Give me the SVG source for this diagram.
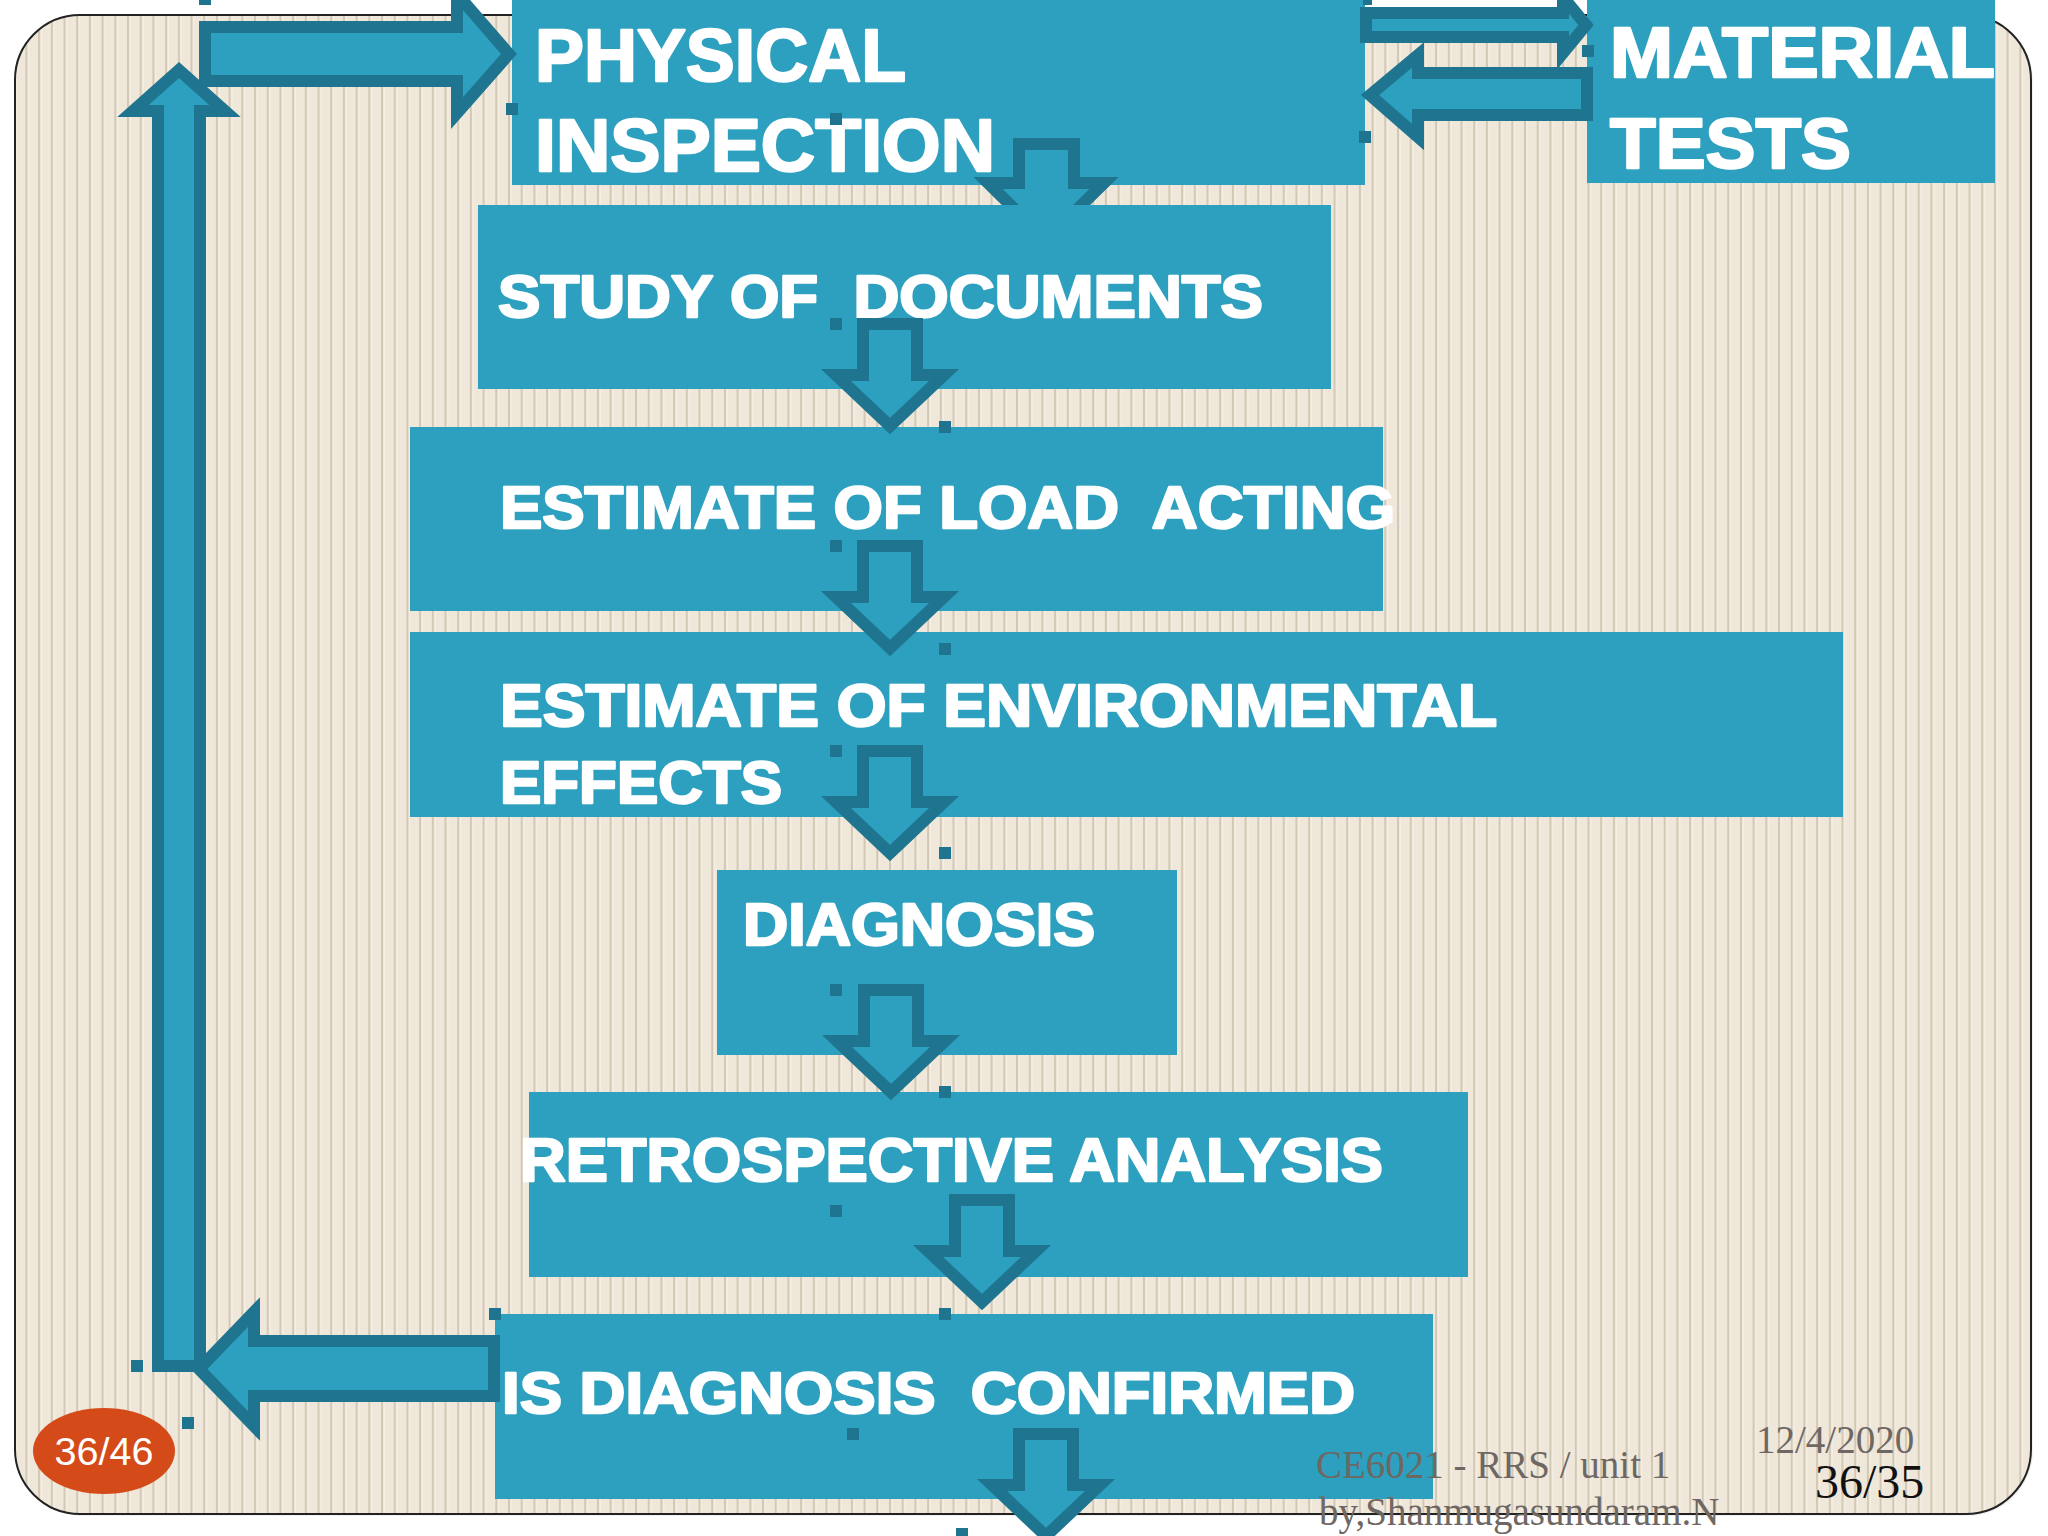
<svg xmlns="http://www.w3.org/2000/svg" width="2048" height="1536" viewBox="0 0 2048 1536">
  <defs>
    <pattern id="stripes" patternUnits="userSpaceOnUse" width="12.7" height="20">
      <rect width="12.7" height="20" fill="#EFE8DA"/>
      <rect x="0" width="2.4" height="20" fill="#D3C8B4"/>
      <rect x="2.4" width="1.2" height="20" fill="#F8F3EA"/>
    </pattern>
    <clipPath id="clipA">
      <rect x="0" y="0" width="2048" height="205"/>
    </clipPath>
    <style>
      .box { fill: #2CA0BE; }
      .lbl { font-family: "Liberation Sans", Arial, sans-serif; font-weight: bold; fill: #FFFFFF; stroke: #FFFFFF; stroke-width: 2.4; stroke-linejoin: round; }
      .arr { fill: #2CA0BE; stroke: #1F758F; stroke-width: 12; stroke-linejoin: miter; stroke-miterlimit: 10; }
      .dot { fill: #1F758F; }
      .foot { font-family: "Liberation Serif", "Times New Roman", serif; fill: #6E6762; font-size: 39px; }
    </style>
  </defs>

  <rect width="2048" height="1536" fill="#FFFFFF"/>
  <rect x="17" y="17" width="2016" height="1499" rx="65" ry="65" fill="#E8E8E8" opacity="0.6"/>
  <rect id="panel" x="15" y="15" width="2016" height="1499" rx="65" ry="65" fill="url(#stripes)" stroke="#222222" stroke-width="2"/>

  <g id="node-physical">
    <rect class="box" x="512" y="0" width="853" height="185"/>
    <text class="lbl" x="535" y="81" font-size="74" textLength="371" lengthAdjust="spacingAndGlyphs">PHYSICAL</text>
    <text class="lbl" x="535" y="171" font-size="74" textLength="460" lengthAdjust="spacingAndGlyphs">INSPECTION</text>
  </g>
  <g id="node-material">
    <rect class="box" x="1587" y="0" width="408" height="183"/>
    <text class="lbl" x="1610" y="77" font-size="70" textLength="385" lengthAdjust="spacingAndGlyphs">MATERIAL</text>
    <text class="lbl" x="1610" y="168" font-size="70" textLength="241" lengthAdjust="spacingAndGlyphs">TESTS</text>
  </g>

  <g id="connector-a" clip-path="url(#clipA)">
    <polygon class="arr" points="1019,144 1074,144 1074,183 1104,183 1046,240 988,183 1019,183"/>
  </g>

  <g id="node-study">
    <rect class="box" x="478" y="205" width="853" height="184"/>
    <text class="lbl" x="498" y="317" font-size="59" textLength="765" lengthAdjust="spacingAndGlyphs" xml:space="preserve">STUDY OF  DOCUMENTS</text>
  </g>
  <g id="node-load">
    <rect class="box" x="410" y="427" width="973" height="184"/>
    <text class="lbl" x="500" y="528" font-size="60" textLength="895" lengthAdjust="spacingAndGlyphs" xml:space="preserve">ESTIMATE OF LOAD  ACTING</text>
  </g>
  <g id="node-environment">
    <rect class="box" x="410" y="632" width="1433" height="185"/>
    <text class="lbl" x="500" y="726" font-size="60" textLength="997" lengthAdjust="spacingAndGlyphs">ESTIMATE OF ENVIRONMENTAL</text>
    <text class="lbl" x="500" y="803" font-size="59" textLength="282" lengthAdjust="spacingAndGlyphs">EFFECTS</text>
  </g>
  <g id="node-diagnosis">
    <rect class="box" x="717" y="870" width="460" height="185"/>
    <text class="lbl" x="743" y="945" font-size="59" textLength="352" lengthAdjust="spacingAndGlyphs">DIAGNOSIS</text>
  </g>
  <g id="node-retrospective">
    <rect class="box" x="529" y="1092" width="939" height="185"/>
    <text class="lbl" x="520" y="1181" font-size="61" textLength="863" lengthAdjust="spacingAndGlyphs">RETROSPECTIVE ANALYSIS</text>
  </g>
  <g id="node-confirmed">
    <rect class="box" x="495" y="1314" width="938" height="185"/>
    <text class="lbl" x="502" y="1413" font-size="58" textLength="853" lengthAdjust="spacingAndGlyphs" xml:space="preserve">IS DIAGNOSIS  CONFIRMED</text>
  </g>

  <g id="connectors">
    <polygon class="arr" points="158,1366 200,1366 200,111 225,111 179,70 133,111 158,111"/>
    <polygon class="arr" points="205,27 457,27 457,-6 509,54 457,113 457,81 205,81"/>
    <polygon class="arr" points="494,1341 254,1341 254,1312 199,1369 254,1426 254,1396 494,1396"/>
    <polygon class="arr" points="1366,13 1563,13 1563,-3 1586,25 1563,53 1563,37 1366,37"/>
    <polygon class="arr" points="1587,73 1418,73 1418,55 1370,95 1418,137 1418,115 1587,115"/>
    <polygon class="arr" points="863,324 917,324 917,375 944,375 890,426 836,375 863,375"/>
    <polygon class="arr" points="863,546 917,546 917,597 944,597 890,648 836,597 863,597"/>
    <polygon class="arr" points="863,751 917,751 917,802 944,802 890,853 836,802 863,802"/>
    <polygon class="arr" points="864,990 918,990 918,1041 945,1041 891,1092 837,1041 864,1041"/>
    <polygon class="arr" points="955,1200 1009,1200 1009,1251 1036,1251 982,1302 928,1251 955,1251"/>
    <polygon class="arr" points="1019,1434 1073,1434 1073,1485 1100,1485 1046,1536 992,1485 1019,1485"/>
  </g>

  <g id="handles">
    <rect class="dot" x="199" y="-7" width="12" height="12"/>
    <rect class="dot" x="506" y="103" width="12" height="12"/>
    <rect class="dot" x="830" y="113" width="12" height="12"/>
    <rect class="dot" x="1363" y="-7" width="9" height="12"/>
    <rect class="dot" x="1582" y="45" width="12" height="12"/>
    <rect class="dot" x="1359" y="131" width="12" height="12"/>
    <rect class="dot" x="830" y="318" width="12" height="12"/>
    <rect class="dot" x="939" y="421" width="12" height="12"/>
    <rect class="dot" x="830" y="540" width="12" height="12"/>
    <rect class="dot" x="939" y="643" width="12" height="12"/>
    <rect class="dot" x="830" y="745" width="12" height="12"/>
    <rect class="dot" x="939" y="847" width="12" height="12"/>
    <rect class="dot" x="830" y="984" width="12" height="12"/>
    <rect class="dot" x="939" y="1086" width="12" height="12"/>
    <rect class="dot" x="830" y="1205" width="12" height="12"/>
    <rect class="dot" x="939" y="1308" width="12" height="12"/>
    <rect class="dot" x="847" y="1428" width="12" height="12"/>
    <rect class="dot" x="956" y="1528" width="12" height="12"/>
    <rect class="dot" x="489" y="1308" width="12" height="12"/>
    <rect class="dot" x="131" y="1360" width="12" height="12"/>
    <rect class="dot" x="182" y="1417" width="12" height="12"/>
  </g>

  <g id="badge">
    <ellipse cx="104" cy="1451" rx="71" ry="43" fill="#D54A19"/>
    <text x="104" y="1465" text-anchor="middle" font-family="Liberation Sans, Arial, sans-serif" font-size="38" fill="#FFFFFF" textLength="99" lengthAdjust="spacingAndGlyphs">36/46</text>
  </g>

  <g id="footer">
    <text class="foot" x="1316" y="1478">CE6021 - RRS / unit 1</text>
    <text class="foot" x="1319" y="1525">by,Shanmugasundaram.N</text>
    <text class="foot" x="1756" y="1453">12/4/2020</text>
    <text x="1815" y="1498" font-family="Liberation Serif, 'Times New Roman', serif" font-size="48" fill="#111111">36/35</text>
  </g>
</svg>
